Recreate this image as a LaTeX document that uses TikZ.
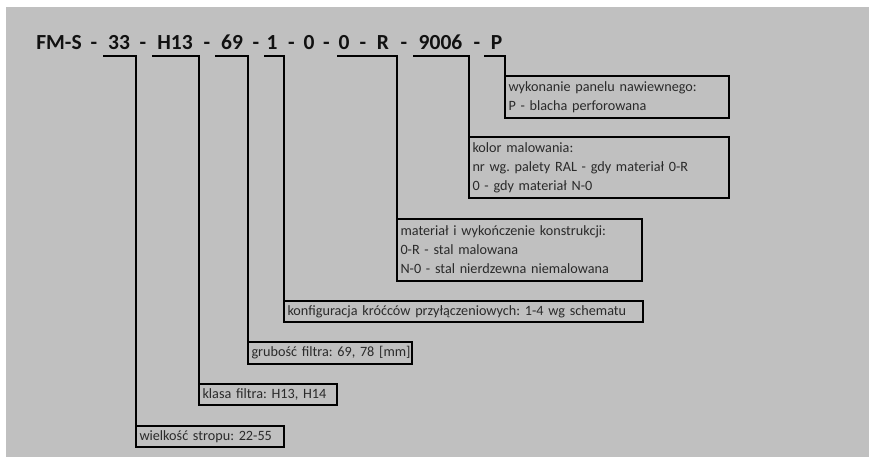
\documentclass[tikz,border=0pt]{standalone}
\usepackage{fontspec}
\setmainfont{Carlito}
\definecolor{bggray}{HTML}{C0C0C0}
\definecolor{hdrcol}{HTML}{111111}
\definecolor{txtcol}{HTML}{2A2A2A}
\newcommand{\hdrfont}{\fontsize{21.5}{26}\selectfont\bfseries}
\newcommand{\boxfont}{\fontsize{14.2}{19}\selectfont\frenchspacing}
\begin{document}
\begin{tikzpicture}[x=1pt,y=-1pt,
  tok/.style={anchor=base, inner sep=0pt, font=\hdrfont, text=hdrcol},
  infobox/.style={draw=black, line width=2pt, anchor=north west, outer sep=0pt,
    inner xsep=3.5pt, inner ysep=0pt, align=left, font=\boxfont, text=txtcol},
  conn/.style={draw=black, line width=2pt}]
\useasboundingbox (0,0) rectangle (872,458);
\fill[white] (0,0) rectangle (872,458);
\fill[bggray] (6,7) rectangle (869,457);
% header tokens
\node[tok] (t0) at (59,49.5) {FM-S};
\node[tok] (d0) at (94,49.5) {-};
\node[tok] (t1) at (119,49.5) {33};
\node[tok] (d1) at (143,49.5) {-};
\node[tok] (t2) at (175,49.5) {H13};
\node[tok] (d2) at (207,49.5) {-};
\node[tok] (t3) at (232,49.5) {69};
\node[tok] (d3) at (256,49.5) {-};
\node[tok] (t4) at (272,49.5) {1};
\node[tok] (d4) at (291.5,49.5) {-};
\node[tok] (t5) at (309,49.5) {0};
\node[tok] (d5) at (326.5,49.5) {-};
\node[tok] (t6) at (344,49.5) {0};
\node[tok] (d6) at (363,49.5) {-};
\node[tok] (t7) at (383,49.5) {R};
\node[tok] (d7) at (404,49.5) {-};
\node[tok] (t8) at (440.5,49.5) {9006};
\node[tok] (d8) at (477,49.5) {-};
\node[tok] (t9) at (496.5,49.5) {P};
% boxes
\node[infobox, minimum width=148pt, minimum height=21pt, text width=141pt] (b1) at (136,426) {\mbox{wielkość stropu: 22-55}};
\node[infobox, minimum width=138pt, minimum height=21pt, text width=131pt] (b2) at (199,384) {\mbox{klasa filtra: H13, H14}};
\node[infobox, minimum width=164pt, minimum height=22pt, text width=157pt] (b3) at (248,342) {\mbox{grubość filtra: 69, 78 [mm]}};
\node[infobox, minimum width=359pt, minimum height=21pt, text width=352pt] (b4) at (284,301) {\mbox{konfiguracja króćców przyłączeniowych: 1-4 wg schematu}};
\node[infobox, minimum width=245pt, minimum height=62pt, text width=238pt] (b5) at (397,219) {\mbox{materiał i wykończenie konstrukcji:}\\\mbox{0-R - stal malowana}\\\mbox{N-0 - stal nierdzewna niemalowana}};
\node[infobox, minimum width=260pt, minimum height=61pt, text width=253pt] (b6) at (469,137) {\mbox{kolor malowania:}\\\mbox{nr wg. palety RAL - gdy materiał 0-R}\\\mbox{0 - gdy materiał N-0}};
\node[infobox, minimum width=224pt, minimum height=42pt, text width=217pt] (b7) at (505,76) {\mbox{wykonanie panelu nawiewnego:}\\\mbox{P - blacha perforowana}};
% connectors
\coordinate (u1) at (103,56);
\coordinate (u2) at (152,56);
\coordinate (u3) at (215,56);
\coordinate (u4) at (264,56);
\coordinate (u5) at (337,56);
\coordinate (u6) at (413,56);
\coordinate (u7) at (484,56);
\draw[conn] (u1) -| (b1.north west);
\draw[conn] (u2) -| (b2.north west);
\draw[conn] (u3) -| (b3.north west);
\draw[conn] (u4) -| (b4.north west);
\draw[conn] (u5) -| (b5.north west);
\draw[conn] (u6) -| (b6.north west);
\draw[conn] (u7) -| (b7.north west);
\end{tikzpicture}
\end{document}
